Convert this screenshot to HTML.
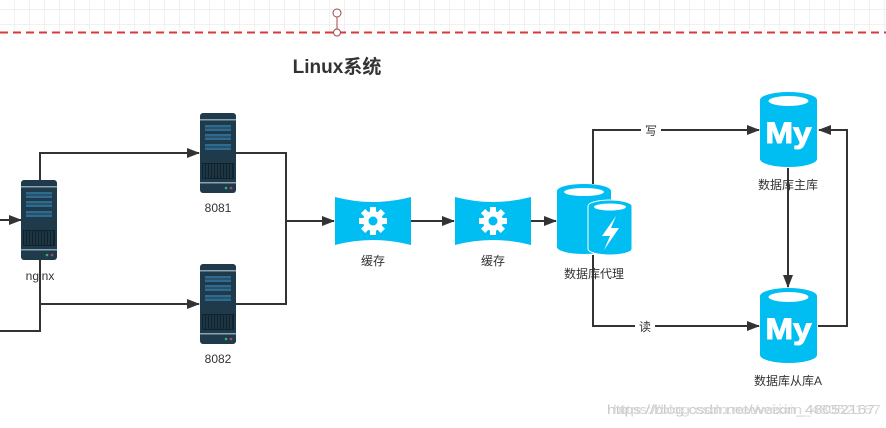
<!DOCTYPE html>
<html><head><meta charset="utf-8"><style>
body{margin:0;background:#fff;}
svg{display:block;font-family:"Liberation Sans","Noto Sans CJK SC",sans-serif;}
</style></head><body>
<svg width="886" height="428" viewBox="0 0 886 428" xmlns="http://www.w3.org/2000/svg">
<defs>
<pattern id="grid" width="15" height="15" patternUnits="userSpaceOnUse" x="0" y="9">
<path d="M15 0V15M0 0H15" stroke="#e3e3e3" stroke-width="1" fill="none"/>
</pattern>
<marker id="ar" markerWidth="13" markerHeight="10" refX="12" refY="5" orient="auto" markerUnits="userSpaceOnUse">
<path d="M0 0L13 5L0 10z" fill="#333"/>
</marker>
<g id="srv">
<rect x="0" y="0" width="36" height="80" rx="3" fill="#1f3a4a"/>
<rect x="0" y="6" width="36" height="1.5" fill="#8aa3b0"/>
<rect x="5" y="12" width="26" height="2.5" fill="#2f6a8f"/><rect x="5" y="15.5" width="26" height="2.5" fill="#2f6a8f"/>
<rect x="5" y="21" width="26" height="2.5" fill="#2f6a8f"/><rect x="5" y="24.5" width="26" height="2.5" fill="#2f6a8f"/>
<rect x="5" y="31" width="26" height="2.5" fill="#2f6a8f"/><rect x="5" y="34.5" width="26" height="2.5" fill="#2f6a8f"/>
<rect x="2" y="50" width="32" height="16" fill="#10222c"/>
<path d="M4 51V65M7 51V65M10 51V65M13 51V65M16 51V65M19 51V65M22 51V65M25 51V65M28 51V65M31 51V65" stroke="#2d4a5a" stroke-width="1"/>
<rect x="0" y="69" width="36" height="1.5" fill="#8aa3b0"/>
<circle cx="26" cy="75" r="1.3" fill="#3fa86a"/><circle cx="31" cy="75" r="1.3" fill="#c0405a"/>
</g>
<g id="cache">
<path d="M0 0Q38 10 76 0V48Q38 38 0 48Z" fill="#00bdf2"/>
<g transform="translate(38,24)" fill="#fff">
<circle r="10"/>
<g><rect x="-3" y="-14" width="6" height="28"/><rect x="-14" y="-3" width="28" height="6"/>
<rect x="-3" y="-14" width="6" height="28" transform="rotate(45)"/><rect x="-3" y="-14" width="6" height="28" transform="rotate(-45)"/></g>
<circle r="4.5" fill="#00bdf2"/>
</g>
</g>
<g id="my">
<path d="M0 8A28.5 8 0 0 1 57 8V67A28.5 8 0 0 1 0 67Z" fill="#00bdf2"/>
<ellipse cx="28.5" cy="9" rx="20" ry="5" fill="#fff"/>
<text x="28.5" y="51" text-anchor="middle" font-size="30" font-weight="bold" fill="#fff" textLength="46" lengthAdjust="spacingAndGlyphs" stroke="#fff" stroke-width="1">My</text>
</g>
</defs>
<rect x="0" y="0" width="886" height="32" fill="url(#grid)"/>
<line x1="0" y1="32.5" x2="886" y2="32.5" stroke="#d83a3a" stroke-width="2" stroke-dasharray="8,5"/>
<line x1="337" y1="17" x2="337" y2="29" stroke="#a04848" stroke-width="1"/>
<circle cx="337" cy="13" r="4" fill="#fff" stroke="#a04848"/>
<circle cx="337" cy="32.5" r="3.5" fill="#fff" stroke="#a04848"/>
<text x="337" y="73" text-anchor="middle" font-size="19" font-weight="bold" fill="#333">Linux系统</text>

<g stroke="#333" stroke-width="2" fill="none">
<path d="M0 220H21" marker-end="url(#ar)"/>
<path d="M40 180V153H199" marker-end="url(#ar)"/>
<path d="M40 260V331H0"/>
<path d="M40 304H199" marker-end="url(#ar)"/>
<path d="M236 153H286V304H236"/>
<path d="M286 221H334" marker-end="url(#ar)"/>
<path d="M411 221H454" marker-end="url(#ar)"/>
<path d="M531 221H556" marker-end="url(#ar)"/>
<path d="M593 184V130H759" marker-end="url(#ar)"/>
<path d="M593 255V326H759" marker-end="url(#ar)"/>
<path d="M788 168V287" marker-end="url(#ar)"/>
<path d="M818 326H847V130H819" marker-end="url(#ar)"/>
</g>
<use href="#srv" x="21" y="180"/>
<use href="#srv" x="200" y="113"/>
<use href="#srv" x="200" y="264"/>
<use href="#cache" x="335" y="197"/>
<use href="#cache" x="455" y="197"/>
<path d="M557 191A27 7 0 0 1 611 191V247A27 7 0 0 1 557 247Z" fill="#00bdf2"/>
<ellipse cx="584" cy="192" rx="20" ry="4" fill="#fff"/>
<path d="M588 206A22 6 0 0 1 632 206V249A22 6 0 0 1 588 249Z" fill="#00bdf2" stroke="#fff" stroke-width="1"/>
<ellipse cx="610" cy="207" rx="16" ry="3.5" fill="#fff"/>
<path d="M616 216L602 236H610L604 250L619 228H611Z" fill="#fff"/>
<use href="#my" x="760" y="92"/>
<use href="#my" x="760" y="288"/>
<rect x="641" y="122" width="20" height="16" fill="#fff"/>
<rect x="635" y="318" width="20" height="16" fill="#fff"/>
<g font-size="12" fill="#333" text-anchor="middle">
<text x="651" y="135">写</text>
<text x="645" y="331">读</text>
<text x="40" y="280">nginx</text>
<text x="218" y="212">8081</text>
<text x="218" y="363">8082</text>
<text x="373" y="265">缓存</text>
<text x="493" y="265">缓存</text>
<text x="594" y="278">数据库代理</text>
<text x="788" y="189">数据库主库</text>
<text x="788" y="385">数据库从库A</text>
</g>
<text x="607" y="414" font-size="13" fill="#c8c8c8" textLength="268" lengthAdjust="spacingAndGlyphs">https://blog.csdn.net/weixin_48052167</text>
<text x="613" y="414" font-size="13" fill="#d8d8d8" textLength="268" lengthAdjust="spacingAndGlyphs">https://blog.csdn.net/weixin_48052167</text>
</svg>
</body></html>
